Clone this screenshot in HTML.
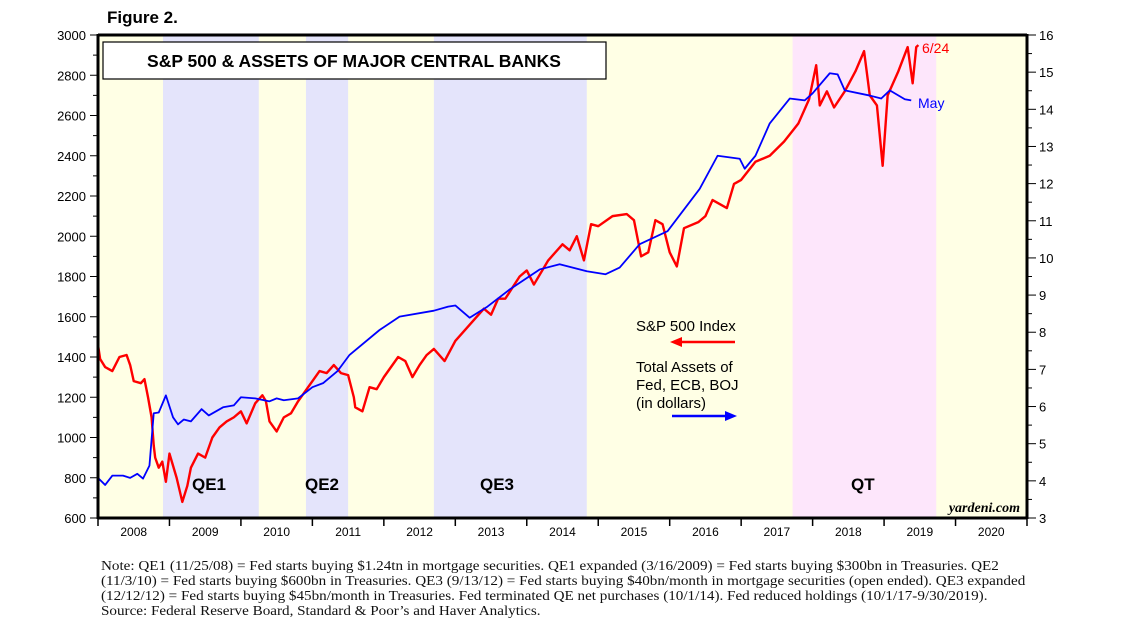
<!DOCTYPE html>
<html><head><meta charset="utf-8"><style>
body{margin:0;background:#fff;width:1138px;height:636px;overflow:hidden;font-family:"Liberation Sans",sans-serif}
.note{position:absolute;left:101px;top:558px;white-space:nowrap;font-family:"Liberation Serif",serif;font-size:13.7px;line-height:15px;color:#111;transform:scaleX(1.105);transform-origin:0 0}
</style></head><body>
<svg id="chart" width="1138" height="636" style="position:absolute;left:0;top:0">
<text x="107" y="23" font-size="17" font-weight="bold">Figure 2.</text>
<g id="bg"></g><g id="grid"></g>
<g id="series"></g>
<rect x="103" y="42" width="503" height="37" fill="#fff" stroke="#000" stroke-width="1.2"/>
<text x="354" y="67" text-anchor="middle" font-size="17.5" font-weight="bold">S&amp;P 500 &amp; ASSETS OF MAJOR CENTRAL BANKS</text>
<g id="labels" font-size="17" font-weight="bold">
<text x="192" y="490">QE1</text>
<text x="305" y="490">QE2</text>
<text x="480" y="490">QE3</text>
<text x="851" y="490">QT</text>
</g>
<text x="1020" y="512" text-anchor="end" font-size="14" font-style="italic" font-weight="bold" font-family="Liberation Serif,serif">yardeni.com</text>
<g font-size="15">
<text x="636" y="331">S&amp;P 500 Index</text>
<text x="636" y="372">Total Assets of</text>
<text x="636" y="390">Fed, ECB, BOJ</text>
<text x="636" y="408">(in dollars)</text>
</g>
<g><line x1="735" y1="342" x2="680" y2="342" stroke="#f00" stroke-width="2.5"/><polygon points="670,342 682,337 682,347" fill="#f00"/></g>
<g><line x1="672" y1="416" x2="727" y2="416" stroke="#00f" stroke-width="2.5"/><polygon points="737,416 725,411 725,421" fill="#00f"/></g>
<text x="922" y="53" fill="#f00" font-size="14">6/24</text>
<text x="918" y="108" fill="#00f" font-size="14">May</text>
<g id="axes"></g>
</svg>
<div class="note">Note: QE1 (11/25/08) = Fed starts buying $1.24tn in mortgage securities. QE1 expanded (3/16/2009) = Fed starts buying $300bn in Treasuries. QE2<br>(11/3/10) = Fed starts buying $600bn in Treasuries. QE3 (9/13/12) = Fed starts buying $40bn/month in mortgage securities (open ended). QE3 expanded<br>(12/12/12) = Fed starts buying $45bn/month in Treasuries. Fed terminated QE net purchases (10/1/14). Fed reduced holdings (10/1/17-9/30/2019).<br>Source: Federal Reserve Board, Standard &amp; Poor’s and Haver Analytics.</div>
<script>
const years=[2008,2009,2010,2011,2012,2013,2014,2015,2016,2017,2018,2019,2020];
const leftTicks=[600,800,1000,1200,1400,1600,1800,2000,2200,2400,2600,2800,3000];
const rightTicks=[3,4,5,6,7,8,9,10,11,12,13,14,15,16];
const periodNames=['QE1','QE2','QE3','QT'];
const periodStart=[2008.91,2010.91,2012.7,2017.72];
const periodEnd=[2010.25,2011.5,2014.84,2019.73];
const spT=[2008.0,2008.03,2008.1,2008.2,2008.3,2008.4,2008.45,2008.5,2008.6,2008.65,2008.7,2008.75,2008.78,2008.8,2008.85,2008.9,2008.95,2009.0,2009.1,2009.18,2009.25,2009.3,2009.4,2009.5,2009.6,2009.7,2009.8,2009.9,2010.0,2010.08,2010.2,2010.3,2010.35,2010.4,2010.5,2010.6,2010.7,2010.8,2010.9,2011.0,2011.1,2011.2,2011.3,2011.4,2011.5,2011.58,2011.6,2011.7,2011.8,2011.9,2012.0,2012.2,2012.3,2012.4,2012.5,2012.6,2012.7,2012.85,2013.0,2013.2,2013.4,2013.5,2013.6,2013.7,2013.9,2014.0,2014.1,2014.3,2014.5,2014.6,2014.7,2014.8,2014.9,2015.0,2015.2,2015.4,2015.5,2015.6,2015.7,2015.8,2015.9,2016.0,2016.1,2016.2,2016.4,2016.5,2016.6,2016.8,2016.9,2017.0,2017.2,2017.4,2017.6,2017.8,2017.95,2018.05,2018.1,2018.2,2018.3,2018.45,2018.6,2018.72,2018.8,2018.9,2018.98,2019.05,2019.2,2019.33,2019.4,2019.45,2019.48];
const spV=[1460,1390,1350,1330,1400,1410,1360,1280,1270,1290,1200,1100,960,900,850,880,780,920,800,680,760,850,920,900,1000,1050,1080,1100,1130,1070,1170,1210,1180,1080,1030,1100,1120,1180,1230,1280,1330,1320,1360,1320,1310,1200,1150,1130,1250,1240,1300,1400,1380,1300,1360,1410,1440,1380,1480,1560,1640,1610,1690,1690,1800,1830,1760,1880,1960,1930,2000,1880,2060,2050,2100,2110,2080,1900,1920,2080,2060,1920,1850,2040,2070,2100,2180,2140,2260,2280,2370,2400,2470,2560,2680,2850,2650,2720,2640,2720,2820,2920,2700,2650,2350,2700,2820,2940,2760,2940,2950];
const baT=[2008.0,2008.1,2008.2,2008.35,2008.45,2008.55,2008.63,2008.72,2008.78,2008.85,2008.95,2009.05,2009.12,2009.2,2009.3,2009.45,2009.55,2009.75,2009.9,2010.0,2010.2,2010.4,2010.5,2010.6,2010.8,2011.0,2011.15,2011.35,2011.52,2011.94,2012.22,2012.7,2012.9,2013.0,2013.2,2013.45,2013.76,2014.18,2014.46,2014.84,2015.1,2015.3,2015.58,2015.97,2016.42,2016.67,2016.98,2017.05,2017.2,2017.4,2017.68,2017.89,2018.0,2018.24,2018.35,2018.45,2018.8,2018.96,2019.08,2019.29,2019.38];
const baV=[4.08,3.89,4.14,4.14,4.08,4.19,4.06,4.41,5.82,5.84,6.30,5.71,5.52,5.65,5.60,5.93,5.76,5.98,6.03,6.25,6.22,6.14,6.22,6.17,6.22,6.52,6.63,6.95,7.39,8.06,8.42,8.58,8.69,8.72,8.39,8.69,9.15,9.69,9.83,9.64,9.56,9.74,10.37,10.72,11.86,12.75,12.67,12.40,12.75,13.62,14.29,14.24,14.43,14.97,14.94,14.51,14.37,14.29,14.51,14.27,14.24];
const X0=98,X1=1027,Y0=35,Y1=518;
const x=t=>X0+(t-2008)/13*(X1-X0);
const yL=v=>Y1-(v-600)/2400*(Y1-Y0);
const yR=v=>Y1-(v-3)/13*(Y1-Y0);
const NS='http://www.w3.org/2000/svg';
function mk(tag,attrs,parent){const e=document.createElementNS(NS,tag);for(const k in attrs)e.setAttribute(k,attrs[k]);document.getElementById(parent).appendChild(e);return e;}
let r=mk('rect',{x:X0,y:Y0,width:X1-X0,height:Y1-Y0,fill:'#ffffe5'},'bg');


periodNames.forEach((n,i)=>{
 const e=mk('rect',{x:x(periodStart[i]),y:Y0,width:x(periodEnd[i])-x(periodStart[i]),height:Y1-Y0,fill:n==='QT'?'#fde6fb':'#e4e4fb'},'bg');
 
 
});
let p=mk('polyline',{points:spT.map((t,i)=>x(t)+','+yL(spV[i])).join(' '),fill:'none',stroke:'#f00','stroke-width':2.4,'stroke-linejoin':'round'},'series');


p=mk('polyline',{points:baT.map((t,i)=>x(t)+','+yR(baV[i])).join(' '),fill:'none',stroke:'#00f','stroke-width':1.8,'stroke-linejoin':'round'},'series');


mk('line',{x1:X0,y1:Y0,x2:X1,y2:Y0,stroke:'#000','stroke-width':3},'axes');
mk('line',{x1:X0,y1:Y0-1,x2:X0,y2:Y1+1,stroke:'#000','stroke-width':3},'axes');
mk('line',{x1:X1,y1:Y0-1,x2:X1,y2:Y1+1,stroke:'#000','stroke-width':3},'axes');
mk('line',{x1:X0,y1:Y1,x2:X1,y2:Y1,stroke:'#000','stroke-width':3},'axes');
for(let v=600;v<=3000;v+=100){mk('line',{x1:X0-(v%200?5:8),y1:yL(v),x2:X0,y2:yL(v),stroke:'#000','stroke-width':1},'axes');}
leftTicks.forEach(v=>{const t=mk('text',{x:X0-12,y:yL(v)+5,'text-anchor':'end','font-size':13},'axes');t.textContent=v;

});
for(let v=3;v<=16;v+=0.5){mk('line',{x1:X1,y1:yR(v),x2:X1+(v%1?5:9),y2:yR(v),stroke:'#000','stroke-width':1},'axes');}
rightTicks.forEach(v=>{const t=mk('text',{x:X1+12,y:yR(v)+5,'font-size':13},'axes');t.textContent=v;

});
years.forEach(yr=>{mk('line',{x1:x(yr),y1:Y1,x2:x(yr),y2:Y1+8,stroke:'#000','stroke-width':1.5},'axes');
const t=mk('text',{x:x(yr+0.5),y:Y1+18,'text-anchor':'middle','font-size':12},'axes');t.textContent=yr;

});
mk('line',{x1:X1,y1:Y1,x2:X1,y2:Y1+8,stroke:'#000','stroke-width':1.5},'axes');
</script>
</body></html>
